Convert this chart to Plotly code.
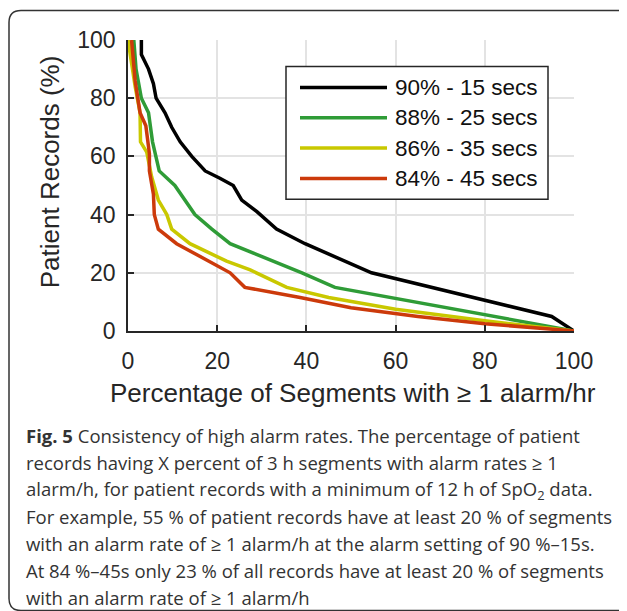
import plotly.graph_objects as go

# series: % of segments with >=1 alarm/hr (x) vs % of patient records (y)
names = ["90% - 15 secs", "88% - 25 secs", "86% - 35 secs", "84% - 45 secs"]
colors = ["#000000", "#2f9c37", "#c9c800", "#cc3a0b"]

x_90 = [3.0, 3.0, 4.6, 5.7, 6.3, 8.3, 9.8, 11.7, 14.3, 17.3, 20.6, 23.6, 25.5, 28.9, 33.3, 39.7, 54.6, 95.0, 100.0]
y_90 = [100, 95, 90, 85, 80, 75, 70, 65, 60, 55, 52.5, 50, 45, 41, 35, 30, 20, 5, 0]

x_88 = [1.3, 1.8, 3.0, 4.6, 5.5, 7.0, 10.5, 15.0, 18.8, 22.9, 39.0, 46.4, 100.0]
y_88 = [100, 90, 80, 75, 65, 55, 50, 40, 35, 30, 20, 15, 0]

x_86 = [0.2, 0.4, 1.6, 2.7, 2.8, 4.2, 5.3, 6.8, 8.7, 9.8, 13.9, 22.1, 27.4, 35.6, 45.0, 60.0, 80.0, 100.0]
y_86 = [100, 96, 84, 75, 65, 61.5, 53, 45, 40, 35, 30, 24, 21, 15, 11.5, 7.5, 3.5, 0]

x_84 = [0.8, 1.6, 2.7, 4.0, 4.8, 4.8, 5.7, 5.9, 6.8, 10.9, 22.9, 26.2, 38.6, 50.0, 65.0, 80.0, 100.0]
y_84 = [100, 86, 75, 70.5, 61, 55, 47, 40, 35, 30, 20, 15, 11.5, 8, 5, 2.5, 0]

xs = [x_90, x_88, x_86, x_84]
ys = [y_90, y_88, y_86, y_84]

tick_vals = [0, 20, 40, 60, 80, 100]

caption_lines = [
    "<b>Fig. 5</b> Consistency of high alarm rates. The percentage of patient",
    "records having X percent of 3 h segments with alarm rates \u2265 1",
    "alarm/h, for patient records with a minimum of 12 h of SpO<sub>2</sub> data.",
    "For example, 55 % of patient records have at least 20 % of segments",
    "with an alarm rate of \u2265 1 alarm/h at the alarm setting of 90 %\u201315s.",
    "At 84 %\u201345s only 23 % of all records have at least 20 % of segments",
    "with an alarm rate of \u2265 1 alarm/h",
]

# the page body has an 8px margin, so the figure sits at (8, 8) in the window
OFF = 8
W, H = 627 - OFF, 611 - OFF
# plot area in window pixels
L, R, T, B = 128, 574, 39.5, 331


def px(x):
    return (x - L) / (R - L)


def py(y):
    return (B - y) / (B - T)


ink = "#262626"
font = "Liberation Sans, Arial, sans-serif"

fig = go.Figure()
for name, color, x, y in zip(names, colors, xs, ys):
    fig.add_trace(go.Scatter(
        x=x, y=y, mode="lines", name=name,
        line=dict(color=color, width=3.5),
        showlegend=False,
    ))

axis = dict(
    range=[0, 100], tickvals=tick_vals, ticks="inside", ticklen=6,
    tickcolor=ink, tickwidth=1.5, showline=True, linecolor=ink, linewidth=1.5,
    showgrid=True, gridcolor="#e3e3e3", gridwidth=1.5, zeroline=False,
    tickfont=dict(family=font, size=23, color=ink),
    fixedrange=True,
)

fig.update_layout(
    width=W, height=H,
    margin=dict(l=L - OFF, r=627 - R, t=T - OFF, b=611 - B),
    paper_bgcolor="white", plot_bgcolor="white",
    xaxis=dict(axis, ticklabelstandoff=9),
    yaxis=dict(axis, ticklabelstandoff=6),
    showlegend=False,
)

anns = [
    dict(text="Percentage of Segments with \u2265 1 alarm/hr", x=px(353), y=py(393),
         font=dict(family=font, size=26, color=ink)),
    dict(text="Patient Records (%)", x=px(50), y=py(172), textangle=-90,
         font=dict(family=font, size=26, color=ink)),
]

# legend drawn by hand so the sample lines match the long MATLAB ones
shapes = [dict(type="rect", xref="paper", yref="paper",
               x0=px(286), x1=px(548), y0=py(66), y1=py(199),
               line=dict(color=ink, width=1.5), fillcolor="white", layer="above")]
for i, (name, color) in enumerate(zip(names, colors)):
    yy = 87 + i * 30.4
    shapes.append(dict(type="line", xref="paper", yref="paper",
                       x0=px(300), x1=px(387), y0=py(yy), y1=py(yy),
                       line=dict(color=color, width=3.5), layer="above"))
    anns.append(dict(text=name, x=px(393), y=py(yy), xanchor="left",
                     font=dict(family=font, size=22.5, color="#111111")))

for i, line in enumerate(caption_lines):
    anns.append(dict(text=line, x=px(24), y=py(436 + i * 27), xanchor="left",
                     font=dict(family="Open Sans, sans-serif", size=18.5, color="#333333")))

for a in anns:
    a.setdefault("xanchor", "center")
    a.update(xref="paper", yref="paper", yanchor="middle", showarrow=False)

# rounded frame around the whole figure, running off the right and bottom edges
r = 12
path = "M{},{} L{},{} Q{},{} {},{} L{},{} Q{},{} {},{} L{},{}".format(
    px(640), py(10), px(9 + r), py(10), px(9), py(10), px(9), py(10 + r),
    px(9), py(611 - r), px(9), py(611), px(9 + r), py(611), px(640), py(611))
shapes.append(dict(type="path", xref="paper", yref="paper", path=path,
                   line=dict(color="#333333", width=1.5)))

fig.update_layout(annotations=anns, shapes=shapes)
fig.write_html("out.html")
